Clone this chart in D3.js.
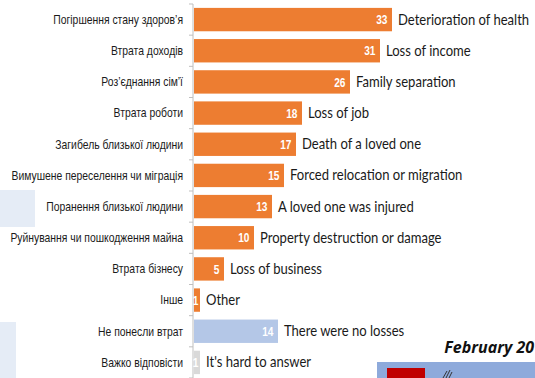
<!DOCTYPE html>
<html>
<head>
<meta charset="utf-8">
<script src="https://cdn.jsdelivr.net/npm/d3@7"></script>
<style>
  html, body { margin: 0; padding: 0; background: #fff; }
  svg { display: block; }
  .uk { font-family: "Liberation Sans", Arial, sans-serif; font-size: 12.5px; fill: #1a1a1a; }
  .en { font-family: Lato, "Open Sans", sans-serif; font-size: 14.5px; fill: #1a1a1a; }
  .val { font-family: "Liberation Sans", Arial, sans-serif; font-size: 13px; font-weight: bold; fill: #fff; }
  .stamp { font-family: "Open Sans", Lato, sans-serif; font-size: 16px; font-weight: bold; font-style: italic; fill: #111; }
</style>
</head>
<body>
<svg id="chart" width="535" height="378"></svg>
<script>
// Ukrainian category labels (left of the axis)
const categoriesUk = [
  "Погіршення стану здоров’я",
  "Втрата доходів",
  "Роз’єднання сім’ї",
  "Втрата роботи",
  "Загибель близької людини",
  "Вимушене переселення чи міграція",
  "Поранення близької людини",
  "Руйнування чи пошкодження майна",
  "Втрата бізнесу",
  "Інше",
  "Не понесли втрат",
  "Важко відповісти"
];
// English translations placed after each bar
const categoriesEn = [
  "Deterioration of health",
  "Loss of income",
  "Family separation",
  "Loss of job",
  "Death of a loved one",
  "Forced relocation or migration",
  "A loved one was injured",
  "Property destruction or damage",
  "Loss of business",
  "Other",
  "There were no losses",
  "It's hard to answer"
];
// Share of respondents, %
const values = [33, 31, 26, 18, 17, 15, 13, 10, 5, 1, 14, 1];
// Answer group of each row: a loss, no losses, hard to answer
const groups = ["loss", "loss", "loss", "loss", "loss", "loss", "loss", "loss", "loss", "loss", "none", "dk"];

const colors = { loss: "#ED7D31", none: "#B4C7E7", dk: "#D9D9D9" };

const svg = d3.select("#chart");

// faint panels at the left edge
svg.append("rect").attr("x", 0).attr("y", 190).attr("width", 35).attr("height", 37).attr("fill", "#e5ecf6");
svg.append("rect").attr("x", 0).attr("y", 322).attr("width", 16).attr("height", 56).attr("fill", "#e5ecf6");

const x0 = 194;
const x = d3.scaleLinear().domain([0, 33]).range([x0, x0 + 198]);
const y = d3.scaleBand()
  .domain(d3.range(values.length))
  .range([4, 378])
  .paddingInner(0.25)
  .paddingOuter(0.125);

// narrow (condensed) text: horizontal squeeze around the anchor point
function squeeze(sel, px, py, sx) {
  return sel.attr("transform", (d, i) => `translate(${px(d, i)},${py(d, i)}) scale(${sx},1)`);
}

// category axis with ticks between bands
const axisG = svg.append("g");
axisG.append("line")
  .attr("x1", x0 - 1).attr("x2", x0 - 1)
  .attr("y1", 4).attr("y2", 378)
  .attr("stroke", "#bfbfbf").attr("stroke-width", 1);
axisG.selectAll("line.tick")
  .data(d3.range(values.length + 1))
  .join("line")
  .attr("class", "tick")
  .attr("x1", x0 - 5).attr("x2", x0 - 1)
  .attr("y1", i => 4 + i * y.step()).attr("y2", i => 4 + i * y.step())
  .attr("stroke", "#bfbfbf");

axisG.selectAll("text.uk")
  .data(categoriesUk)
  .join("text")
  .attr("class", "uk")
  .attr("dy", "0.35em")
  .attr("text-anchor", "end")
  .text(d => d)
  .call(squeeze, () => 183, (d, i) => y(i) + y.bandwidth() / 2, 0.83);

const rows = svg.append("g").selectAll("g")
  .data(values.map((v, i) => ({ v, i, g: groups[i], en: categoriesEn[i] })))
  .join("g");

rows.append("rect")
  .attr("x", x(0))
  .attr("y", d => y(d.i))
  .attr("width", d => x(d.v) - x(0))
  .attr("height", y.bandwidth())
  .attr("fill", d => colors[d.g]);

rows.append("text")
  .attr("class", "val")
  .attr("dy", "0.36em")
  .attr("text-anchor", "end")
  .text(d => d.v)
  .call(squeeze, d => x(d.v) - (d.v < 3 ? 1.5 : 4.5), d => y(d.i) + y.bandwidth() / 2, 0.78);

rows.append("text")
  .attr("class", "en")
  .attr("dy", "0.35em")
  .text(d => d.en)
  .call(squeeze, d => x(d.v) + 6, d => y(d.i) + y.bandwidth() / 2, 0.9);

// survey wave stamp and strip in the corner
svg.append("text").attr("class", "stamp")
  .attr("x", 534).attr("y", 353).attr("text-anchor", "end")
  .text("February 20");
svg.append("rect").attr("x", 377).attr("y", 362).attr("width", 158).attr("height", 16).attr("fill", "#8eaadb");
svg.append("rect").attr("x", 387).attr("y", 368).attr("width", 38).attr("height", 10).attr("fill", "#c00000");
svg.append("path")
  .attr("d", "M443,378 L447,371 M446,378 L450,370 M449,378 L452,372")
  .attr("stroke", "#333").attr("stroke-width", 1).attr("fill", "none");
</script>
</body>
</html>
